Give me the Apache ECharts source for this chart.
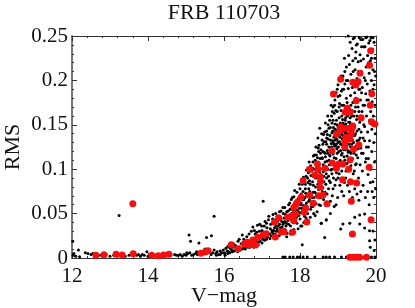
<!DOCTYPE html>
<html><head><meta charset="utf-8">
<script src="https://cdn.jsdelivr.net/npm/echarts@6/dist/echarts.min.js"></script>
<style>html,body{margin:0;padding:0;background:#fff}#c{width:415px;height:308px}</style></head>
<body><div id="c"></div>
<script>
const xTicks=[12,14,16,18,20];
const yTicks=[0,0.05,0.1,0.15,0.2,0.25];
const blackBright=[[12.03,.003],[12.05,.005],[12.02,.019],[12.17,.009],[12.1,.002],[12.2,.0015],[12.35,.006],[12.42,.005],[12.5,.004],[12.55,.005],[12.6,.002],[12.75,.003],[12.9,.004],[13.0,.002],[13.1,.003],[13.24,.048],[13.4,.002],[13.5,.003],[13.7,.003],[13.75,.004],[13.8,.002],[13.85,.004],[13.9,.003],[13.97,.007],[14.0,.002],[14.3,.002],[14.4,.002],[14.6,.003],[14.7,.004],[14.75,.003],[14.8,.003],[14.85,.004],[14.9,.002],[14.95,.004],[15.0,.003],[15.05,.005],[15.1,.006],[15.15,.003],[15.2,.004],[15.25,.005],[15.3,.004],[15.35,.005],[15.08,.026],[15.12,.019],[15.34,.017],[15.54,.023],[15.02,.006],[15.28,.007],[15.45,.005],[15.5,.01],[15.58,.006],[15.67,.025],[15.74,.047]];
const blackLow=[[15.62,.007],[15.66,.004],[15.7,.006],[15.74,.009],[15.78,.005],[15.82,.007],[15.86,.004],[15.9,.008],[15.94,.006],[15.98,.009],[16.02,.005],[16.05,.011],[16.08,.008],[16.12,.007],[16.16,.011],[16.2,.009],[16.24,.012],[16.27,.008],[16.3,.014],[16.34,.011],[16.37,.019],[16.41,.012],[16.45,.016],[16.48,.01],[16.52,.021],[16.55,.013],[16.58,.017],[16.6,.024],[16.63,.012],[16.66,.019],[16.7,.016],[16.73,.022],[16.76,.035],[16.79,.017],[16.82,.027],[16.85,.021],[16.88,.037],[16.91,.018],[16.93,.03],[16.96,.024],[16.99,.036],[17.02,.021],[17.03,.064],[17.05,.029],[17.08,.041],[17.1,.024],[17.13,.034],[17.16,.028],[17.18,.047],[17.21,.022],[17.23,.038],[17.26,.031],[17.28,.044],[17.3,.027],[17.33,.034],[17.36,.05],[17.38,.03],[17.41,.041],[17.43,.036],[17.46,.052],[17.48,.027],[17.5,.044],[17.53,.035],[17.55,.057],[17.57,.04],[17.6,.032],[17.62,.049],[17.64,.039],[17.66,.028],[17.69,.053],[17.71,.044],[17.73,.062],[17.75,.036],[17.78,.05],[17.8,.068],[17.82,.042],[17.84,.032],[17.86,.076],[17.88,.047],[17.9,.058],[17.92,.039],[17.94,.066],[17.96,.052],[17.98,.083],[18.0,.044],[18.02,.06],[18.03,.072],[18.05,.036],[18.06,.015],[18.07,.053],[18.09,.091],[18.1,.066],[18.12,.047],[18.14,.078],[18.15,.059],[18.17,.099],[18.18,.07],[18.2,.05],[18.21,.085],[18.23,.064],[18.24,.108],[18.26,.075],[18.27,.046],[18.29,.093],[18.3,.058],[18.32,.068],[18.33,.101],[18.35,.082],[18.36,.05],[18.38,.116],[18.39,.074],[18.41,.09],[18.42,.061],[18.44,.105],[18.45,.052],[18.47,.083],[18.48,.124],[18.5,.069],[18.51,.097],[18.53,.112],[18.54,.059],[18.56,.039],[18.56,.087],[18.58,.133],[18.59,.075],[18.61,.105],[18.62,.066],[18.63,.092],[18.65,.023],[18.65,.142],[18.66,.118],[18.68,.083],[18.69,.043],[18.7,.128],[18.71,.072],[18.73,.1],[18.74,.15],[18.76,.11],[18.77,.087],[18.79,.138],[18.8,.064],[18.81,.122],[18.83,.16],[18.84,.095],[18.86,.132],[18.87,.078],[18.88,.147],[18.9,.113],[18.91,.172],[18.92,.1],[18.94,.126],[18.95,.088],[18.96,.155],[18.98,.118],[18.99,.068],[19.0,.182]];
const blackMid=[[18.35,.115],[18.42,.125],[18.47,.135],[18.52,.146],[18.55,.122],[18.58,.113],[18.6,.128],[18.62,.139],[18.64,.119],[18.66,.108],[18.68,.131],[18.7,.143],[18.72,.121],[18.74,.134],[18.76,.125],[18.78,.116],[18.8,.147],[18.82,.129],[18.84,.141],[18.86,.12],[18.87,.155],[18.89,.136],[18.91,.126],[18.93,.145],[18.94,.166],[18.96,.134],[18.97,.123],[18.98,.15],[19.0,.13],[19.0,.143],[19.02,.12],[19.03,.137],[19.03,.158],[19.04,.174],[19.05,.109],[19.06,.152],[19.07,.128],[19.08,.166],[19.09,.188],[19.1,.139],[19.1,.098],[19.11,.118],[19.12,.156],[19.13,.205],[19.14,.131],[19.14,.146],[19.15,.172],[19.16,.114],[19.17,.085],[19.17,.138],[19.18,.196],[19.19,.155],[19.2,.123],[19.21,.143],[19.22,.18],[19.22,.215],[19.23,.106],[19.24,.133],[19.25,.16],[19.26,.148],[19.27,.191],[19.27,.119],[19.28,.228],[19.29,.138],[19.3,.168],[19.3,.101],[19.31,.153],[19.32,.243],[19.33,.125],[19.33,.183],[19.34,.207],[19.35,.145],[19.36,.16],[19.36,.112],[19.37,.236],[19.38,.133],[19.39,.175],[19.39,.222],[19.4,.095],[19.41,.15],[19.42,.194],[19.42,.118],[19.43,.248],[19.44,.165],[19.44,.138],[19.45,.212],[19.46,.105],[19.47,.18],[19.47,.232],[19.48,.126],[19.49,.156],[19.5,.202],[19.5,.143],[19.51,.241],[19.52,.113],[19.53,.17],[19.53,.221],[19.54,.09],[19.55,.19],[19.55,.133],[19.56,.248],[19.57,.153],[19.58,.105],[19.58,.229],[19.59,.178],[19.6,.124],[19.61,.21],[19.61,.142],[19.62,.238],[19.63,.165],[19.64,.098],[19.64,.192]];
const blackFaint=[[19.65,.246],[19.66,.118],[19.67,.224],[19.68,.15],[19.69,.203],[19.7,.132],[19.7,.172],[19.71,.238],[19.72,.108],[19.73,.185],[19.74,.215],[19.75,.16],[19.75,.125],[19.76,.249],[19.77,.196],[19.78,.142],[19.78,.228],[19.79,.094],[19.8,.178],[19.8,.112],[19.81,.242],[19.82,.208],[19.83,.155],[19.83,.132],[19.84,.188],[19.85,.222],[19.86,.1],[19.86,.165],[19.87,.248],[19.88,.2],[19.89,.12],[19.89,.145],[19.9,.176],[19.91,.235],[19.92,.212],[19.92,.086],[19.93,.16],[19.94,.13],[19.95,.195],[19.95,.243],[19.96,.108],[19.97,.225],[19.97,.172],[19.98,.14],[19.99,.205],[19.99,.078],[19.96,.15],[19.94,.068],[19.9,.075],[19.85,.085],[19.82,.06],[19.78,.075],[19.72,.068],[19.66,.082],[19.6,.075],[19.55,.065],[19.5,.072],[19.44,.078],[19.38,.068],[19.3,.075],[19.25,.082],[19.2,.09],[19.15,.07],[19.1,.075],[19.05,.082],[19.0,.09],[18.95,.06],[18.9,.058],[18.85,.07],[18.8,.05],[19.13,.0383],[19.07,.0327],[19.31,.039],[19.44,.0458],[19.57,.0484],[19.7,.0495],[19.57,.0383],[19.7,.0338],[19.83,.0307],[19.92,.0304],[19.83,.0195],[19.97,.0203],[19.85,.012],[19.95,.0085],[18.69,.0428],[18.56,.039]];
const blackBase=[[17.55,.001],[17.61,.001],[17.73,.001],[17.82,.001],[17.93,.001],[17.99,.001],[18.08,.001],[18.19,.001],[18.39,.001],[18.61,.001],[18.69,.001],[18.78,.001],[18.91,.001],[19.09,.001],[19.22,.001],[19.7,.001],[19.88,.001],[19.97,.001]];
const blackCoreA=[[15.8,.003],[15.9,.004],[16.0,.006],[16.03,.003],[16.1,.005],[16.15,.006],[16.22,.007],[16.3,.009],[16.36,.007],[16.42,.009],[16.5,.011],[16.56,.01],[16.62,.015],[16.68,.012],[16.72,.014],[16.78,.012],[16.84,.018],[16.9,.015],[16.95,.019],[17.0,.017],[17.04,.023],[17.07,.02],[17.12,.021],[17.15,.024],[17.2,.027],[17.24,.025],[17.27,.029],[17.31,.031],[17.34,.027],[17.37,.036],[17.4,.033],[17.43,.03],[17.46,.038],[17.49,.034],[17.52,.041],[17.55,.038],[17.58,.045],[17.6,.041],[17.63,.036],[17.65,.046],[17.68,.042],[17.7,.038],[17.72,.048],[17.74,.044],[17.76,.055],[17.79,.041],[17.81,.047],[17.83,.053],[17.85,.043],[17.87,.055],[17.89,.05],[17.91,.046],[17.93,.054],[17.95,.06],[17.97,.048],[17.99,.056],[18.01,.051],[18.03,.062],[18.05,.056],[18.07,.066],[18.09,.059],[18.11,.054],[18.13,.068],[18.15,.073],[18.17,.062],[18.19,.057],[18.21,.071],[18.23,.078],[18.25,.066],[18.27,.083],[18.29,.072],[18.31,.063],[18.33,.086],[18.35,.074],[18.37,.068],[18.39,.095],[18.41,.08],[18.43,.072],[18.45,.091],[18.47,.103],[18.49,.077],[18.51,.088],[18.53,.101],[18.55,.094],[18.57,.08],[18.59,.112],[18.61,.097],[18.63,.086],[18.65,.103],[18.67,.114],[18.69,.095],[18.71,.109],[18.73,.118],[18.75,.092],[18.77,.105],[18.79,.115],[18.81,.099],[18.83,.125],[18.85,.108],[18.87,.117],[18.89,.128],[18.91,.105],[18.93,.133],[18.95,.112]];
const blackCoreB=[[18.72,.139],[18.76,.146],[18.8,.133],[18.84,.152],[18.86,.143],[18.88,.13],[18.9,.142],[18.92,.151],[18.94,.137],[18.95,.128],[18.97,.143],[18.98,.133],[19.0,.148],[19.01,.125],[19.02,.141],[19.04,.131],[19.05,.146],[19.06,.136],[19.07,.121],[19.08,.142],[19.09,.128],[19.1,.15],[19.11,.134],[19.12,.143],[19.13,.125],[19.14,.138],[19.15,.15],[19.16,.13],[19.17,.146],[19.18,.141],[19.19,.122],[19.2,.151],[19.21,.133],[19.22,.14],[19.23,.126],[19.24,.146],[19.25,.134],[19.26,.121],[19.27,.14],[19.28,.153],[19.29,.128],[19.3,.145],[19.31,.133],[19.32,.141],[19.33,.15],[19.34,.118],[19.35,.136],[19.36,.128],[19.37,.144],[19.38,.122],[19.4,.138],[19.41,.13],[19.42,.146],[19.44,.125],[19.46,.14],[19.48,.116],[19.5,.132],[19.53,.123],[19.55,.145],[19.58,.135],[19.62,.118],[19.66,.135],[19.7,.148],[19.74,.112],[19.8,.125],[18.85,.165],[18.92,.178],[18.98,.165],[19.0,.195],[19.05,.183],[19.1,.172],[19.15,.19],[19.18,.21],[19.22,.165],[19.26,.2],[19.3,.218],[19.34,.172],[19.38,.192],[19.4,.21],[19.44,.186],[19.46,.225],[19.5,.176],[19.54,.21],[19.57,.19],[19.6,.222],[19.62,.186],[19.66,.172],[19.68,.238],[19.72,.2],[19.76,.178],[19.8,.22],[19.84,.245],[19.88,.225],[19.92,.19],[19.96,.21],[19.4,.247],[19.48,.24],[19.6,.246],[19.73,.248],[19.92,.248]];
const blackWide=[[16.1,.013],[16.25,.016],[16.4,.021],[16.48,.026],[16.55,.019],[16.66,.027],[16.72,.03],[16.8,.031],[16.86,.029],[16.94,.038],[17.0,.031],[17.06,.036],[17.12,.039],[17.17,.043],[17.22,.033],[17.29,.049],[17.35,.043],[17.4,.047],[17.44,.044],[17.5,.053],[17.56,.05],[17.6,.057],[17.65,.052],[17.7,.06],[17.74,.055],[17.77,.066],[17.8,.058],[17.84,.069],[17.88,.063],[17.92,.074],[17.96,.067],[18.0,.078],[18.02,.07],[18.06,.083],[18.08,.075],[18.11,.088],[18.14,.083],[18.16,.092],[18.2,.09],[18.22,.096],[18.25,.087],[18.28,.104],[18.3,.098],[18.34,.108],[18.37,.1],[18.4,.11],[18.43,.116],[18.46,.113],[18.49,.12],[18.5,.127],[18.54,.118],[18.57,.14],[18.6,.12],[18.63,.131],[18.67,.152],[18.7,.135],[18.73,.16],[18.78,.155],[18.82,.172],[18.87,.17],[18.9,.163],[18.95,.186],[18.98,.19],[19.03,.17],[19.08,.205],[19.12,.19],[19.17,.225],[19.22,.2],[19.27,.25],[17.45,.025],[17.55,.028],[17.65,.024],[17.75,.027],[17.85,.029],[17.95,.033],[18.02,.036],[18.1,.04],[18.16,.045],[18.22,.042],[18.28,.055],[18.34,.058],[18.4,.048],[18.44,.07],[18.5,.06],[18.55,.068],[18.6,.079],[18.66,.074],[18.7,.09],[18.75,.078],[18.8,.085],[18.84,.1],[18.88,.09],[18.92,.082],[18.96,.096],[19.0,.105],[19.03,.095],[19.06,.11],[19.09,.116],[19.12,.104],[19.15,.122],[19.18,.11],[19.21,.098],[19.24,.115],[19.27,.108],[19.3,.12],[19.34,.104],[19.38,.112],[19.43,.098],[19.48,.106],[19.1,.16],[19.13,.152],[19.16,.163],[19.2,.158],[19.24,.175],[19.28,.163],[19.32,.158],[19.37,.166],[19.42,.16],[19.46,.17],[19.5,.16],[19.55,.165]];
const redBright=[[12.63,.003],[12.84,.0037],[13.16,.0041],[13.32,.0034],[13.61,.0049],[13.6,.0611],[14.1,.003],[14.27,.0026],[14.41,.0034],[14.55,.0041],[15.39,.0053],[15.5,.0068],[15.58,.0082]];
const redBand=[[16.19,.015],[16.37,.0105],[16.53,.0158],[16.61,.0177],[16.68,.015],[16.76,.0203],[16.83,.0146],[16.89,.0233],[17.03,.0259],[17.11,.0274],[17.35,.0236],[17.51,.0296],[17.58,.0296],[17.8,.0289],[17.33,.0402],[17.44,.0454],[17.68,.0458],[17.77,.047],[17.84,.042],[17.88,.0495],[17.84,.0571],[17.9,.0608],[17.93,.0627],[18.03,.0683],[18.18,.0405],[18.11,.0515],[18.15,.0563],[18.25,.0706],[18.35,.0616],[18.08,.087],[18.25,.0999],[18.39,.0935],[18.46,.1059],[18.47,.0999],[18.53,.0916],[18.54,.0864],[18.53,.0796],[18.49,.0702],[18.61,.0713],[18.71,.0611],[18.66,.101],[18.85,.107],[18.96,.101],[19.02,.1059],[19.13,.1059],[19.28,.0999],[19.32,.1107],[19.12,.0882],[19.33,.0859],[19.49,.0845],[19.82,.1021],[19.35,.0639],[19.87,.0431],[19.38,.027]];
const redTop=[[19.86,.2334],[19.83,.217],[19.58,.208],[19.07,.2012],[19.39,.1978],[19.47,.1948],[19.53,.1985],[18.88,.1847],[19.89,.185],[19.48,.1771],[19.85,.172],[19.24,.1689],[19.19,.1641],[19.32,.1644],[19.61,.158],[19.88,.1535],[19.97,.1509],[19.07,.1479],[19.06,.1441],[19.22,.1461],[19.39,.1486],[19.35,.1441],[18.96,.1396],[19.35,.1396],[19.2,.1359],[19.31,.1337],[19.18,.131],[19.18,.1253],[19.55,.1273],[19.41,.1224],[18.84,.1208]];
const redBase=[[19.31,.0008],[19.39,.0008],[19.48,.0008],[19.57,.0008],[19.75,.0008]];
const titleText='FRB 110703', xName='V\u2212mag', yName='RMS';

const serif='"Liberation Serif","Times New Roman",serif';
const ink='#333';
const blacks=[].concat(blackBright,blackLow,blackMid,blackFaint,blackBase,blackCoreA,blackCoreB,blackWide);
const reds=[].concat(redBright,redBand,redTop,redBase);
const lab=v=>v===0?'0':String(v);
const baseX={type:'value',min:12,max:20,interval:2,splitLine:{show:false},
  axisLine:{show:true,onZero:false,lineStyle:{color:ink,width:1}},
  axisTick:{show:true,inside:true,length:5,lineStyle:{color:ink,width:1}},
  minorTick:{show:true,splitNumber:5,length:2,lineStyle:{color:ink,width:1}}};
const baseY={type:'value',min:0,max:0.25,interval:0.05,splitLine:{show:false},
  axisLine:{show:true,onZero:false,lineStyle:{color:'#777',width:2}},
  axisTick:{show:true,inside:true,length:5,lineStyle:{color:ink,width:1}},
  minorTick:{show:true,splitNumber:5,length:2,lineStyle:{color:ink,width:1}}};
const chart=echarts.init(document.getElementById('c'),null,{renderer:'canvas'});
chart.setOption({
  animation:false,backgroundColor:'#fff',
  title:{text:titleText,left:219,top:-3,textAlign:'center',textStyle:{fontFamily:serif,fontSize:22,fontWeight:'normal',color:'#111'}},
  grid:{left:72,right:39,top:36,bottom:50,containLabel:false,outerBoundsMode:'none'},
  xAxis:[
    Object.assign({},baseX,{position:'bottom',name:xName,nameLocation:'middle',nameGap:27,nameMoveOverlap:false,
      nameTextStyle:{fontFamily:serif,fontSize:22,color:'#111'},
      axisLabel:{margin:8,fontFamily:serif,fontSize:21,color:'#111',formatter:lab,hideOverlap:false}}),
    Object.assign({},baseX,{position:'top',axisLabel:{show:false}})
  ],
  yAxis:[
    Object.assign({},baseY,{position:'left',name:yName,nameLocation:'middle',nameGap:48,nameMoveOverlap:false,
      nameTextStyle:{fontFamily:serif,fontSize:22,color:'#111'},
      axisLabel:{margin:4,fontFamily:serif,fontSize:21,color:'#111',formatter:lab,hideOverlap:false,padding:[3,0,0,0]}}),
    Object.assign({},baseY,{position:'right',axisLabel:{show:false},
      axisLine:{show:true,onZero:false,lineStyle:{color:ink,width:1}}})
  ],
  series:[
    {type:'scatter',data:blacks,symbolSize:3,clip:false,itemStyle:{color:'#000',opacity:1},z:2},
    {type:'scatter',data:reds,symbolSize:7,clip:false,itemStyle:{color:'#f50f0f',opacity:1},z:3}
  ]
});
</script></body></html>
